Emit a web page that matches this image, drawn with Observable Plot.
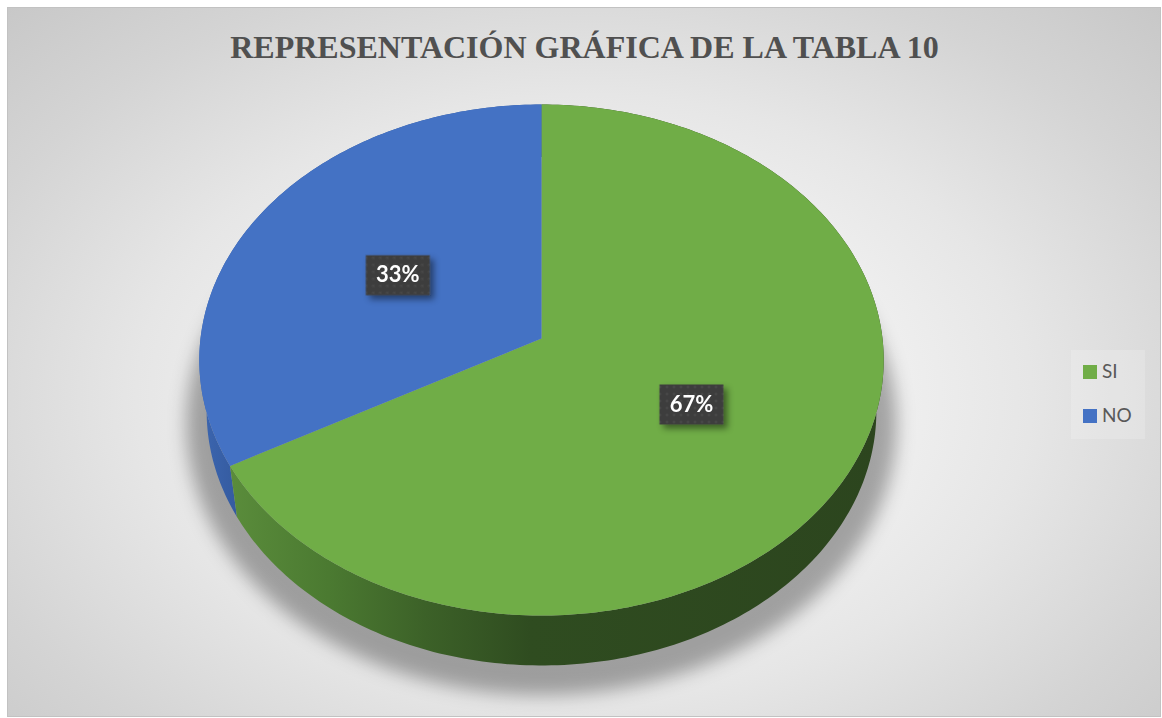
<!DOCTYPE html>
<html>
<head>
<meta charset="utf-8">
<script src="https://cdn.jsdelivr.net/npm/d3@7"></script>
<script src="https://cdn.jsdelivr.net/npm/@observablehq/plot@0.6"></script>
<style>
  html, body { margin: 0; padding: 0; background: #ffffff; }
  #page { position: relative; width: 1162px; height: 718px; overflow: hidden; }
  #frame {
    position: absolute; left: 7px; top: 7px; width: 1152px; height: 708px;
    border: 1px solid #c2c2c2;
    background: radial-gradient(ellipse farthest-corner at 50% 55%, #ffffff 0%, #f6f6f6 25%, #e6e6e6 55%, #d4d4d4 80%, #c8c8c8 100%);
  }
  #title {
    position: relative; height: 80px; box-sizing: border-box; padding-top: 31px; padding-left: 7px;
    text-align: center; font-family: "Liberation Serif", "Times New Roman", serif; font-weight: bold;
    font-size: 32px; line-height: 32px; color: #505050; white-space: nowrap;
  }
  #chart { position: relative; }
  #legend {
    position: absolute; left: 1071px; top: 350px; width: 74px; height: 89px;
    background: rgba(255,255,255,0.18);
    font-family: Lato, "Open Sans", sans-serif; font-size: 19px; line-height: 19px; color: #595959;
  }
  .key { position: absolute; left: 12px; width: 14px; height: 14px; }
  .lab { position: absolute; left: 31px; }
</style>
</head>
<body>
<div id="page">
  <div id="frame"></div>
  <div id="title"></div>
  <div id="chart"></div>
  <div id="legend"></div>
</div>
<script>
// ---- data ----
const titleText = "REPRESENTACIÓN GRÁFICA DE LA TABLA 10";
const categories = ["SI", "NO"];
const values = [67, 33];
const labels = ["67%", "33%"];
const topColors = ["#70ad47", "#4472c4"];

// ---- 3D pie projection (perspective-tilted disk) ----
const CX = 541, CY = 338, S = 2704, D = 7.93, SIN = 0.744, COS = 0.668, DEPTH = 0.232;
function project(X, Z, Y) {
  const yc = Z * SIN + Y * COS;
  const zc = D + Z * COS - Y * SIN;
  return [CX + S * X / zc, CY - S * yc / zc];
}
function arcPts(a0, a1, R, Y) {
  const n = Math.max(2, Math.ceil((a1 - a0) / (Math.PI / 180)));
  return d3.range(n + 1).map(k => {
    const t = a0 + (a1 - a0) * k / n;
    return project(R * Math.sin(t), R * Math.cos(t), Y);
  });
}

const arcs = d3.pie().sort(null).startAngle(0).endAngle(2 * Math.PI)(values);
const slices = arcs.map((a, i) => ({cat: categories[i], label: labels[i], a0: a.startAngle, a1: a.endAngle}));

const topPts = slices.flatMap(s =>
  [project(0, 0, 0), ...arcPts(s.a0, s.a1, 1, 0)].map(([x, y]) => ({cat: s.cat, x, y})));
const sidePts = slices.flatMap(s =>
  [...arcPts(s.a0, s.a1, 1, 0), ...arcPts(s.a0, s.a1, 1, -DEPTH).reverse()].map(([x, y]) => ({cat: s.cat, x, y})));
const shadowPts = arcPts(0, 2 * Math.PI, 1.065, -0.28).map(([x, y]) => ({x, y}));
const labelPts = slices.map(s => {
  const m = (s.a0 + s.a1) / 2;
  const [x, y] = project(0.5 * Math.sin(m), 0.5 * Math.cos(m), 0);
  return {...s, x, y};
});

// ---- title & legend (HTML) ----
document.getElementById("title").textContent = titleText;
const legend = d3.select("#legend");
categories.forEach((c, i) => {
  legend.append("div").attr("class", "key").style("top", (15 + i * 44) + "px").style("background", topColors[i]);
  legend.append("div").attr("class", "lab").style("top", (11 + i * 44) + "px").text(c);
});

// ---- defs ----
const defsMark = () => {
  const defs = d3.create("svg:defs");
  const g = defs.append("linearGradient").attr("id", "gside").attr("gradientUnits", "userSpaceOnUse")
    .attr("x1", 230).attr("x2", 882).attr("y1", 0).attr("y2", 0);
  [[0, "#5a8c3b"], [0.15, "#4b7a31"], [0.3, "#3c6128"], [0.46, "#2f4c20"], [1, "#2c451e"]]
    .forEach(([o, c]) => g.append("stop").attr("offset", o).attr("stop-color", c));
  const b = defs.append("linearGradient").attr("id", "bside").attr("gradientUnits", "userSpaceOnUse")
    .attr("x1", 200).attr("x2", 240).attr("y1", 0).attr("y2", 0);
  [[0, "#3c66b0"], [1, "#345a9e"]].forEach(([o, c]) => b.append("stop").attr("offset", o).attr("stop-color", c));
  const blur = defs.append("filter").attr("id", "blur").attr("x", "-20%").attr("y", "-20%").attr("width", "140%").attr("height", "140%");
  blur.append("feGaussianBlur").attr("stdDeviation", 9);
  const ds = defs.append("filter").attr("id", "boxshadow").attr("x", "-30%").attr("y", "-30%").attr("width", "160%").attr("height", "160%");
  ds.append("feDropShadow").attr("dx", 4).attr("dy", 4).attr("stdDeviation", 3).attr("flood-color", "#000").attr("flood-opacity", 0.45);
  const p = defs.append("pattern").attr("id", "dots").attr("patternUnits", "userSpaceOnUse").attr("width", 7).attr("height", 7);
  p.append("rect").attr("width", 7).attr("height", 7).attr("fill", "#3e3e3e");
  p.append("circle").attr("cx", 3.5).attr("cy", 3.5).attr("r", 1.1).attr("fill", "#4e4e4e");
  return defs.node();
};

const boxSymbol = { draw(ctx) { ctx.rect(-32, -20, 64, 40); } };

const chart = Plot.plot({
  width: 1162, height: 638, margin: 0,
  style: {background: "transparent", overflow: "visible"},
  x: {domain: [0, 1162], range: [0, 1162], axis: null},
  y: {domain: [80, 718], range: [0, 638], axis: null},
  color: {domain: categories, range: topColors},
  marks: [
    defsMark,
    Plot.line(shadowPts, {x: "x", y: "y", fill: "#000", fillOpacity: 0.32, stroke: "none", curve: "linear-closed", ariaDescription: "shadow"}),
    Plot.line(sidePts, {filter: d => d.cat === "NO", x: "x", y: "y", fill: "url(#bside)", stroke: "none", curve: "linear-closed"}),
    Plot.line(sidePts, {filter: d => d.cat === "SI", x: "x", y: "y", fill: "url(#gside)", stroke: "none", curve: "linear-closed"}),
    Plot.line(topPts, {x: "x", y: "y", z: "cat", fill: "cat", stroke: "none", curve: "linear-closed"}),
    Plot.dot(labelPts, {x: "x", y: "y", r: 20, symbol: boxSymbol, fill: "url(#dots)", stroke: "none", ariaDescription: "labelbox"}),
    Plot.text(labelPts, {x: "x", y: "y", text: "label", fill: "#ffffff", fontSize: 22, fontWeight: "bold", fontFamily: "Lato, 'Open Sans', sans-serif"})
  ]
});
document.getElementById("chart").appendChild(chart);
const sh = chart.querySelector('g[aria-description="shadow"]');
if (sh) sh.setAttribute("filter", "url(#blur)");
const lb = chart.querySelector('g[aria-description="labelbox"]');
if (lb) lb.setAttribute("filter", "url(#boxshadow)");
</script>
</body>
</html>
